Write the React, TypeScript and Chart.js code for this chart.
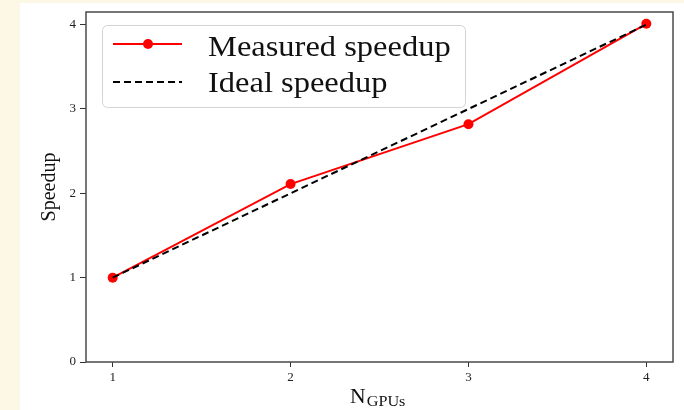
import React, { useEffect, useRef } from "react";
import { Chart, registerables } from "chart.js";

Chart.register(...registerables);

const nGpus = [1, 2, 3, 4];
const measuredSpeedup = [1.0, 2.11, 2.82, 4.01];
const idealSpeedup = [1, 2, 3, 4];
const xTickValues = [1, 2, 3, 4];
const yTickValues = [0, 1, 2, 3, 4];
const legendLabels = ["Measured speedup", "Ideal speedup"];
const yTitle = "Speedup";
const xTitleMain = "N";
const xTitleSub = "GPUs";

const SERIF = "'Liberation Serif', 'DejaVu Serif', serif";

const decorPlugin = {
  id: "decor",
  beforeDraw(chart: any) {
    const { ctx, width, height } = chart;
    ctx.save();
    ctx.fillStyle = "#fdf8e6";
    ctx.fillRect(0, 0, width, height);
    ctx.fillStyle = "#ffffff";
    ctx.fillRect(20, 3, width - 20, height - 3);
    ctx.restore();
  },
  afterDraw(chart: any) {
    const { ctx, chartArea } = chart;
    const { left, right, top, bottom } = chartArea;
    ctx.save();
    // frame
    ctx.strokeStyle = "#4a4a4a";
    ctx.lineWidth = 1.5;
    ctx.strokeRect(left, top, right - left, bottom - top);

    // legend
    const lx = 102.5, ly = 25.5, lw = 363, lh = 82;
    ctx.beginPath();
    if (ctx.roundRect) ctx.roundRect(lx, ly, lw, lh, 5);
    else ctx.rect(lx, ly, lw, lh);
    ctx.fillStyle = "rgba(255,255,255,0.85)";
    ctx.fill();
    ctx.strokeStyle = "#d4d4d4";
    ctx.lineWidth = 1;
    ctx.stroke();

    // measured sample
    ctx.strokeStyle = "#ff0000";
    ctx.lineWidth = 2;
    ctx.setLineDash([]);
    ctx.beginPath();
    ctx.moveTo(113, 44);
    ctx.lineTo(182, 44);
    ctx.stroke();
    ctx.fillStyle = "#ff0000";
    ctx.beginPath();
    ctx.arc(148, 44, 5, 0, Math.PI * 2);
    ctx.fill();

    // ideal sample
    ctx.strokeStyle = "#000000";
    ctx.setLineDash([7, 4]);
    ctx.beginPath();
    ctx.moveTo(113, 82);
    ctx.lineTo(182, 82);
    ctx.stroke();
    ctx.setLineDash([]);

    ctx.fillStyle = "#111111";
    ctx.font = `29px ${SERIF}`;
    ctx.textAlign = "left";
    ctx.textBaseline = "alphabetic";
    ctx.save();
    ctx.translate(208, 0);
    ctx.scale(1.12, 1);
    ctx.fillText(legendLabels[0], 0, 56);
    ctx.fillText(legendLabels[1], 0, 92);
    ctx.restore();

    // y title
    ctx.save();
    ctx.translate(50, 187);
    ctx.rotate(-Math.PI / 2);
    ctx.font = `20px ${SERIF}`;
    ctx.textAlign = "center";
    ctx.textBaseline = "middle";
    ctx.fillText(yTitle, 0, 0);
    ctx.restore();

    // x title
    ctx.save();
    ctx.translate(350, 0);
    ctx.scale(1.08, 1);
    ctx.font = `20px ${SERIF}`;
    ctx.textAlign = "left";
    ctx.textBaseline = "alphabetic";
    ctx.fillText(xTitleMain, 0, 403);
    const nW = ctx.measureText(xTitleMain).width;
    ctx.font = `15px ${SERIF}`;
    ctx.fillText(xTitleSub, nW + 1, 406);
    ctx.restore();

    ctx.restore();
  },
};

export default function App() {
  const ref = useRef<HTMLCanvasElement | null>(null);

  useEffect(() => {
    const canvas = ref.current;
    if (!canvas) return;
    const chart = new Chart(canvas, {
      type: "line",
      data: {
        datasets: [
          {
            label: legendLabels[1],
            data: nGpus.map((x, i) => ({ x, y: idealSpeedup[i] })),
            borderColor: "#000000",
            borderWidth: 2,
            borderDash: [7, 4],
            pointRadius: 0,
            fill: false,
            tension: 0,
            order: 0,
          },
          {
            label: legendLabels[0],
            data: nGpus.map((x, i) => ({ x, y: measuredSpeedup[i] })),
            borderColor: "#ff0000",
            backgroundColor: "#ff0000",
            borderWidth: 2,
            pointRadius: 5,
            pointBorderWidth: 0,
            pointBackgroundColor: "#ff0000",
            fill: false,
            tension: 0,
            order: 1,
          },
        ],
      },
      options: {
        responsive: false,
        animation: false,
        devicePixelRatio: 1,
        layout: { padding: { left: 0, top: 12, right: 11, bottom: 0 } },
        plugins: {
          legend: { display: false },
          tooltip: { enabled: false },
          title: { display: false },
        },
        scales: {
          x: {
            type: "linear",
            min: 0.85,
            max: 4.15,
            afterBuildTicks: (scale: any) => {
              scale.ticks = xTickValues.map((v) => ({ value: v }));
            },
            afterFit: (scale: any) => {
              scale.height = 48;
            },
            border: { display: false },
            grid: {
              display: true,
              drawOnChartArea: false,
              drawTicks: true,
              tickLength: 5,
              color: "#333333",
              lineWidth: 1,
            },
            ticks: {
              color: "#222222",
              font: { family: SERIF, size: 13 },
              padding: 3,
              maxRotation: 0,
              callback: (v: any) => String(v),
            },
          },
          y: {
            type: "linear",
            min: 0,
            max: 4.15,
            afterBuildTicks: (scale: any) => {
              scale.ticks = yTickValues.map((v) => ({ value: v }));
            },
            afterFit: (scale: any) => {
              scale.width = 86;
            },
            border: { display: false },
            grid: {
              display: true,
              drawOnChartArea: false,
              drawTicks: true,
              tickLength: 6,
              color: "#333333",
              lineWidth: 1,
            },
            ticks: {
              color: "#222222",
              font: { family: SERIF, size: 13 },
              padding: 4,
              callback: (v: any) => String(v),
            },
          },
        },
      },
      plugins: [decorPlugin],
    });
    return () => chart.destroy();
  }, []);

  return (
    <div style={{ position: "fixed", left: 0, top: 0, width: 684, height: 410 }}>
      <canvas ref={ref} width={684} height={410} style={{ display: "block" }} />
    </div>
  );
}
